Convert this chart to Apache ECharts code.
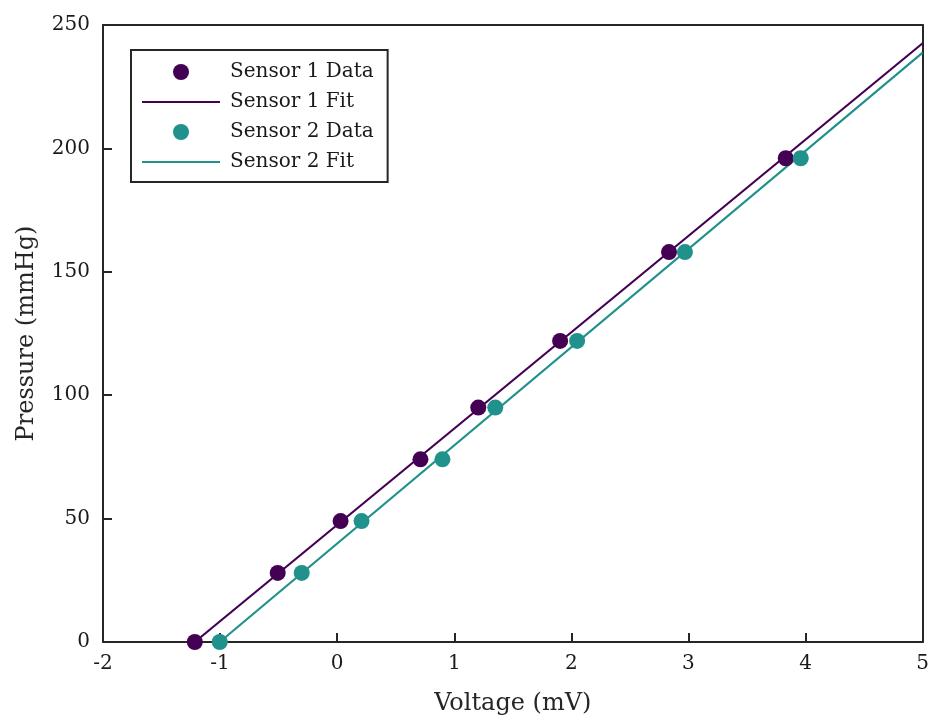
<!DOCTYPE html>
<html><head><meta charset="utf-8">
<script src="https://cdn.jsdelivr.net/npm/echarts@6/dist/echarts.min.js"></script>
<style>html,body{margin:0;padding:0;background:#fff}#c{width:932px;height:722px}</style>
</head><body><div id="c"></div>
<script>
// Data
const pressure = [0, 28, 49, 74, 95, 122, 158, 196];
const sensor1Voltage = [-1.216, -0.508, 0.029, 0.711, 1.205, 1.904, 2.834, 3.831];
const sensor2Voltage = [-1.003, -0.303, 0.208, 0.899, 1.350, 2.049, 2.970, 3.959];
const sensor1FitX = [-1.216, 5];
const sensor1FitY = [0, 242.6];
const sensor2FitX = [-1.003, 5];
const sensor2FitY = [0, 238.8];
const xTicks = [-2, -1, 0, 1, 2, 3, 4, 5];
const yTicks = [0, 50, 100, 150, 200, 250];
const seriesNames = ['Sensor 1 Data', 'Sensor 1 Fit', 'Sensor 2 Data', 'Sensor 2 Fit'];

const c1 = '#440154', c2 = '#21918c', axisCol = '#262626';
const font = 'DejaVu Serif, serif';
const zip = (xs, ys) => xs.map((x, i) => [x, ys[i]]);
const lineIcon = 'path://M0,0 L78,0 L78,2 L0,2 Z';

const chart = echarts.init(document.getElementById('c'), null, {renderer: 'canvas'});
chart.setOption({
  animation: false,
  backgroundColor: '#fff',
  textStyle: {fontFamily: font},
  grid: {left: 103, right: 8, top: 25, bottom: 80, containLabel: false},
  legend: {
    left: 131, top: 50, orient: 'vertical',
    padding: [12, 14, 10, 11],
    borderColor: axisCol, borderWidth: 2, backgroundColor: '#fff',
    itemWidth: 78, itemHeight: 16, itemGap: 10,
    textStyle: {fontFamily: font, fontSize: 20, lineHeight: 16, color: '#1a1a1a', padding: [0, 0, 0, 5]},
    data: [
      {name: seriesNames[0], icon: 'circle'},
      {name: seriesNames[1], icon: lineIcon},
      {name: seriesNames[2], icon: 'circle'},
      {name: seriesNames[3], icon: lineIcon}
    ]
  },
  xAxis: [{
    type: 'value', min: xTicks[0], max: xTicks[xTicks.length - 1], interval: 1,
    name: 'Voltage (mV)', nameLocation: 'middle', nameGap: 50,
    nameTextStyle: {fontFamily: font, fontSize: 24, color: '#262626'},
    axisLine: {show: true, onZero: false, lineStyle: {color: axisCol, width: 2}},
    axisTick: {show: true, inside: true, length: 9, lineStyle: {color: axisCol, width: 2}},
    axisLabel: {fontFamily: font, fontSize: 20, color: '#1a1a1a', margin: 12},
    splitLine: {show: false}
  }, {
    type: 'value', position: 'top', min: xTicks[0], max: xTicks[xTicks.length - 1],
    axisLine: {show: true, onZero: false, lineStyle: {color: axisCol, width: 2}},
    axisTick: {show: false}, axisLabel: {show: false}, splitLine: {show: false}
  }],
  yAxis: [{
    type: 'value', min: yTicks[0], max: yTicks[yTicks.length - 1], interval: 50,
    name: 'Pressure (mmHg)', nameLocation: 'middle', nameGap: 64,
    nameTextStyle: {fontFamily: font, fontSize: 24, color: '#262626'},
    axisLine: {show: true, onZero: false, lineStyle: {color: axisCol, width: 2}},
    axisTick: {show: true, inside: true, length: 9, lineStyle: {color: axisCol, width: 2}},
    axisLabel: {fontFamily: font, fontSize: 20, color: '#1a1a1a', margin: 13},
    splitLine: {show: false}
  }, {
    type: 'value', position: 'right', min: yTicks[0], max: yTicks[yTicks.length - 1],
    axisLine: {show: true, onZero: false, lineStyle: {color: axisCol, width: 2}},
    axisTick: {show: false}, axisLabel: {show: false}, splitLine: {show: false}
  }],
  series: [
    {name: seriesNames[1], type: 'line', data: zip(sensor1FitX, sensor1FitY), showSymbol: false, symbol: 'none',
     lineStyle: {color: c1, width: 2.2}, itemStyle: {color: c1}, z: 2},
    {name: seriesNames[3], type: 'line', data: zip(sensor2FitX, sensor2FitY), showSymbol: false, symbol: 'none',
     lineStyle: {color: c2, width: 2.2}, itemStyle: {color: c2}, z: 2},
    {name: seriesNames[0], type: 'scatter', data: zip(sensor1Voltage, pressure), symbolSize: 16,
     itemStyle: {color: c1, opacity: 1}, z: 3},
    {name: seriesNames[2], type: 'scatter', data: zip(sensor2Voltage, pressure), symbolSize: 16,
     itemStyle: {color: c2, opacity: 1}, z: 3}
  ]
});
</script></body></html>
